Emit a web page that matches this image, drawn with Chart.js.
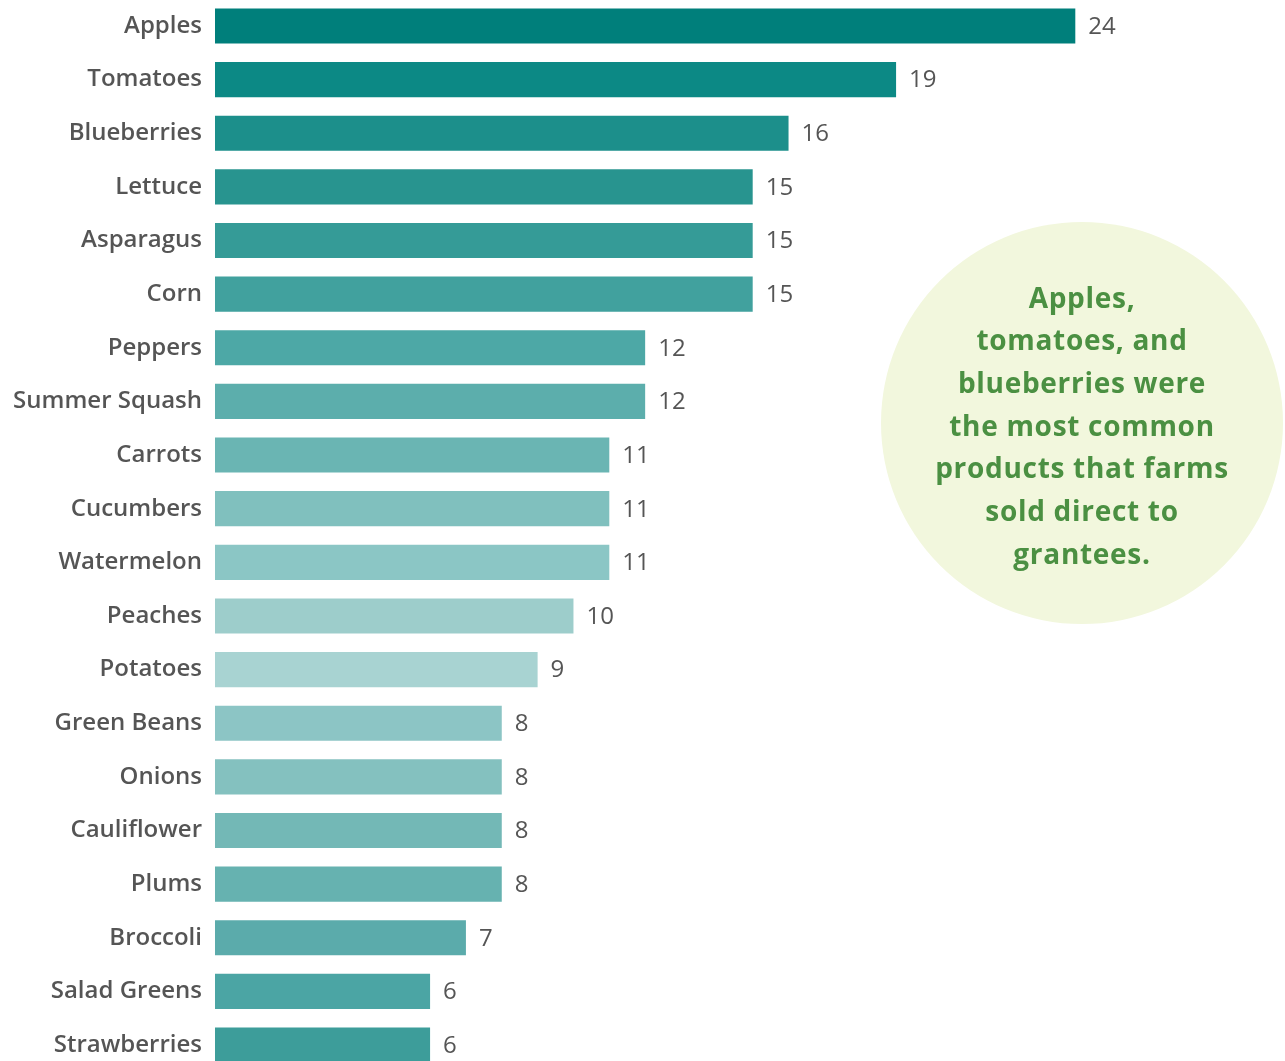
<!DOCTYPE html>
<html>
<head>
<meta charset="utf-8">
<title>Products sold direct to grantees</title>
<script src="https://cdn.jsdelivr.net/npm/chart.js"></script>
<style>
    html, body { margin: 0; padding: 0; background: #fff; }
    .wrap { position: relative; width: 1285px; height: 1061px; }
    #productChart { position: absolute; left: 0; top: 0; }
    .callout {
        position: absolute;
        left: 881px;
        top: 222px;
        width: 402px;
        height: 402px;
        border-radius: 50%;
        background: #f2f7dd;
        display: flex;
        align-items: center;
        justify-content: center;
        text-align: center;
        font-family: "Open Sans", sans-serif;
        font-weight: 700;
        font-size: 28px;
        letter-spacing: 0.7px;
        line-height: 42.7px;
        color: #4b9042;
    }
    .callout p { margin: 0; padding-top: 4px; }
</style>
</head>
<body>
<div class="wrap">
    <canvas id="productChart" width="1285" height="1061"></canvas>
    <div class="callout">
        <p>Apples,<br>tomatoes, and<br>blueberries were<br>the most common<br>products that farms<br>sold direct to<br>grantees.</p>
    </div>
</div>

<script>
    // Products and number of farms selling each one
    var products = ['Apples', 'Tomatoes', 'Blueberries', 'Lettuce', 'Asparagus', 'Corn', 'Peppers',
        'Summer Squash', 'Carrots', 'Cucumbers', 'Watermelon', 'Peaches', 'Potatoes', 'Green Beans',
        'Onions', 'Cauliflower', 'Plums', 'Broccoli', 'Salad Greens', 'Strawberries'];
    var farmCounts = [24, 19, 16, 15, 15, 15, 12, 12, 11, 11, 11, 10, 9, 8, 8, 8, 8, 7, 6, 6];

    // teal shades, dark at the top, lightest at Potatoes, darker again below
    var barColors = ['#007f7b', '#0c8985', '#1c8f8b', '#28948f', '#359b97', '#41a19e', '#4da8a6',
        '#5caeac', '#6ab5b3', '#80c0be', '#8bc6c5', '#9dcdcb', '#a8d3d2', '#8cc5c5',
        '#84c1bf', '#73b8b6', '#66b2b0', '#5babab', '#4ba5a4', '#3d9d9a'];

    // writes each count just past the end of its bar
    var valueLabels = {
        id: 'valueLabels',
        afterDatasetsDraw: function (chart) {
            var ctx = chart.ctx;
            var meta = chart.getDatasetMeta(0);
            ctx.save();
            ctx.font = '400 24px "Open Sans", sans-serif';
            ctx.fillStyle = '#555555';
            ctx.textAlign = 'left';
            ctx.textBaseline = 'middle';
            meta.data.forEach(function (bar, i) {
                ctx.fillText(chart.data.datasets[0].data[i], bar.x + 13, bar.y + 1);
            });
            ctx.restore();
        }
    };

    var ctx = document.getElementById('productChart').getContext('2d');
    var productChart = new Chart(ctx, {
        type: 'bar',
        data: {
            labels: products,
            datasets: [{
                data: farmCounts,
                backgroundColor: barColors,
                borderWidth: 0,
                categoryPercentage: 1,
                barPercentage: 0.655,
                clip: false
            }]
        },
        options: {
            indexAxis: 'y',
            responsive: false,
            animation: false,
            layout: {
                padding: { top: 26, bottom: 16, left: 0, right: 138 }
            },
            plugins: {
                legend: { display: false },
                tooltip: { enabled: false }
            },
            scales: {
                x: {
                    display: false,
                    min: 0,
                    max: 26
                },
                y: {
                    offset: false,
                    grid: { display: false },
                    border: { display: false },
                    afterFit: function (scale) {
                        scale.width = 215;
                        scale.paddingTop = 0;
                        scale.paddingBottom = 0;
                    },
                    ticks: {
                        padding: 5,
                        color: '#555555',
                        font: { family: '"Open Sans", sans-serif', size: 24, weight: '600' }
                    }
                }
            }
        },
        plugins: [valueLabels]
    });
</script>
</body>
</html>
